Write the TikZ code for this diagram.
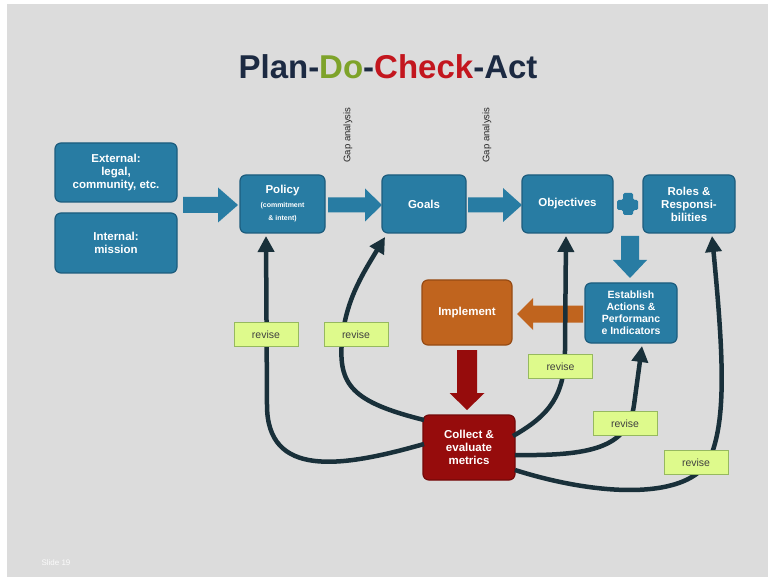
\documentclass[tikz,border=0pt]{standalone}
\usepackage{fontspec}
\setmainfont{Liberation Sans}
\usetikzlibrary{arrows.meta}
\definecolor{bg}{RGB}{220,220,220}
\definecolor{boxblue}{RGB}{40,124,163}
\definecolor{boxblueb}{RGB}{28,92,125}
\definecolor{impl}{RGB}{192,100,30}
\definecolor{implb}{RGB}{150,75,20}
\definecolor{coll}{RGB}{150,12,12}
\definecolor{collb}{RGB}{115,8,8}
\definecolor{revfill}{RGB}{222,250,140}
\definecolor{revdraw}{RGB}{150,185,95}
\definecolor{curve}{RGB}{25,48,58}
\definecolor{tnavy}{RGB}{28,42,66}
\definecolor{tgreen}{RGB}{126,163,42}
\definecolor{tred}{RGB}{195,22,30}
\definecolor{arrblue}{RGB}{40,124,163}
\definecolor{arrred}{RGB}{150,12,12}
\newcommand\harrow[7]{% x1 x2(tip) y shafthalf headhalf headlen color
  \fill[#7] (#1,#3-#4) -- (#2-#6,#3-#4) -- (#2-#6,#3-#5) -- (#2,#3) -- (#2-#6,#3+#5) -- (#2-#6,#3+#4) -- (#1,#3+#4) -- cycle;}
\newcommand\larrow[7]{% x1(tip) x2 y shafthalf headhalf headlen color
  \fill[#7] (#2,#3-#4) -- (#1+#6,#3-#4) -- (#1+#6,#3-#5) -- (#1,#3) -- (#1+#6,#3+#5) -- (#1+#6,#3+#4) -- (#2,#3+#4) -- cycle;}
\newcommand\varrow[7]{% y1 y2(tip) x shafthalf headhalf headlen color
  \fill[#7] (#3-#4,#1) -- (#3-#4,#2-#6) -- (#3-#5,#2-#6) -- (#3,#2) -- (#3+#5,#2-#6) -- (#3+#4,#2-#6) -- (#3+#4,#1) -- cycle;}
\newcommand\tinyf{\fontsize{7}{8}\selectfont}
\tikzset{
  box/.style={draw=boxblueb, line width=1.2pt, fill=boxblue, rounded corners=6pt,
    text=white, font=\bfseries\fontsize{11.5}{13}\selectfont, align=center, inner sep=0pt},
  revise/.style={draw=revdraw, line width=0.8pt, fill=revfill, minimum width=64pt,
    minimum height=24pt, inner sep=0pt, font=\fontsize{10.5}{11}\selectfont, text=black!75},
  fb/.style={line width=4.5pt, draw=curve, -{Triangle[width=16pt,length=16pt]}},
  gap/.style={rotate=90, font=\fontsize{9.5}{10}\selectfont, text=black!85}
}
\begin{document}
\begin{tikzpicture}[x=1pt,y=-1pt]
\fill[white] (0,0) rectangle (768,577);
\fill[bg] (7,4) rectangle (768,577);
\useasboundingbox (0,0) rectangle (768,577);

% title
\node (title) at (388,67) {\fontsize{33}{36}\selectfont\bfseries
  \textcolor{tnavy}{Plan-}\textcolor{tgreen}{Do}\textcolor{tnavy}{-}\textcolor{tred}{Check}\textcolor{tnavy}{-Act}};

% boxes
\node[box, minimum width=122pt, minimum height=59pt] (ext) at (116,172.5) {External:\\legal,\\community, etc.};
\node[box, minimum width=122pt, minimum height=60pt] (int) at (116,243) {Internal:\\mission};
\node[box, minimum width=85pt, minimum height=58pt] (pol) at (282.5,204) {Policy\\[1pt]\tinyf (commitment\\\tinyf \& intent)};
\node[box, minimum width=84pt, minimum height=58pt] (goals) at (424,204) {Goals};
\node[box, minimum width=91pt, minimum height=58pt] (obj) at (567.5,204) {Objectives};
\node[box, minimum width=92pt, minimum height=58pt] (roles) at (689,204) {Roles \&\\Responsi-\\bilities};
\node[box, minimum width=92pt, minimum height=60pt, font=\bfseries\fontsize{10.5}{12}\selectfont] (est) at (631,313) {Establish\\Actions \&\\Performanc\\e Indicators};
\node[box, draw=implb, fill=impl, minimum width=90pt, minimum height=65pt] (imp) at (467,312.5) {Implement};
\node[box, draw=collb, fill=coll, minimum width=92pt, minimum height=65pt] (col) at (469,447.5) {Collect \&\\evaluate\\metrics};

% block arrows
\harrow{183}{238}{205}{8}{17.5}{20}{arrblue}
\harrow{328}{382}{205}{7.5}{16.5}{17}{arrblue}
\harrow{468}{522}{205}{7.5}{17}{19}{arrblue}
\varrow{236}{278}{630}{9}{17}{18}{arrblue}
\larrow{517}{583}{314}{8.5}{16}{16}{impl}
\varrow{350}{410}{467}{10}{17.5}{17}{arrred}
% plus
\fill[arrblue, rounded corners=1.5pt] (623,193) -- (633,193) -- (633,200) -- (638,200) -- (638,210) -- (633,210) -- (633,215) -- (623,215) -- (623,210) -- (617,210) -- (617,200) -- (623,200) -- cycle;

% gap analysis labels
\node[gap] (gap1) at (348,135) {Gap analysis};
\node[gap] (gap2) at (487,135) {Gap analysis};

% feedback curves
\coordinate (c1) at (424,444);
\coordinate (c2) at (424,420);
\coordinate (c3) at (513,436);
\coordinate (c4) at (515,455);
\coordinate (c5) at (515,470);
\draw[fb] (c1) .. controls (340,468) and (267,478) .. (267,405) -- (266,236);
\draw[fb] (c2) .. controls (352,402) and (338,385) .. (342,340) .. controls (346,300) and (362,275) .. (385,237);
\draw[fb] (c3) .. controls (550,415) and (565,395) .. (565,350) -- (566,236);
\draw[fb] (c4) .. controls (590,456) and (628,448) .. (634,405) -- (642,346);
\draw[fb] (c5) .. controls (600,497) and (690,500) .. (710,458) .. controls (726,420) and (724,360) .. (712,236);

% revise labels
\node[revise] (r1) at (266,334.5) {revise};
\node[revise] (r2) at (356,334.5) {revise};
\node[revise] (r3) at (560.5,366.5) {revise};
\node[revise] (r4) at (625,423.5) {revise};
\node[revise] (r5) at (696,462.5) {revise};

% footer
\node[text=white!90!bg, font=\fontsize{8}{9}\selectfont] (slide) at (56,563) {Slide 19};
\end{tikzpicture}
\end{document}
